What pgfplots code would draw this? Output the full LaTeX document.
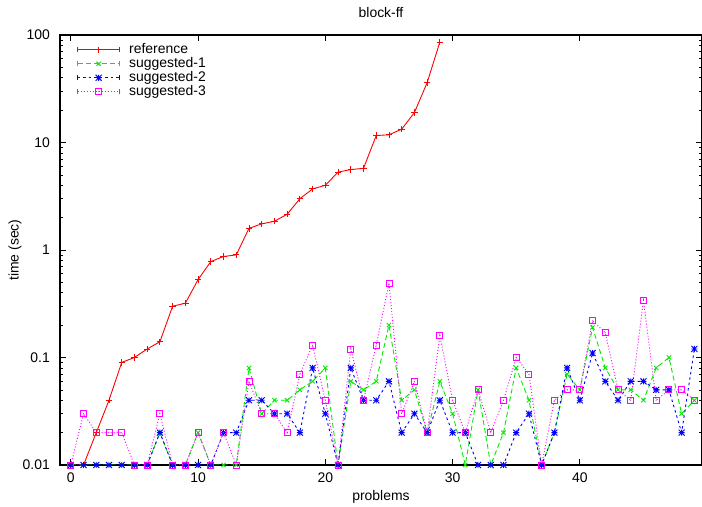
\documentclass[border=0pt]{standalone}
\usepackage{fontspec}
\setmainfont{Liberation Sans}
\usepackage{pgfplots}
\pgfplotsset{compat=1.18}
\usepackage{pgfplotstable}

\definecolor{gpred}{RGB}{255,0,0}
\definecolor{gpgreen}{RGB}{0,235,0}
\definecolor{gpblue}{RGB}{0,0,255}
\definecolor{gpmag}{RGB}{255,0,255}

\pgfdeclareplotmark{gstar}{%
  \pgfpathmoveto{\pgfqpoint{-\pgfplotmarksize}{0pt}}\pgfpathlineto{\pgfqpoint{\pgfplotmarksize}{0pt}}%
  \pgfpathmoveto{\pgfqpoint{0pt}{-\pgfplotmarksize}}\pgfpathlineto{\pgfqpoint{0pt}{\pgfplotmarksize}}%
  \pgfpathmoveto{\pgfqpoint{-\pgfplotmarksize}{-\pgfplotmarksize}}\pgfpathlineto{\pgfqpoint{\pgfplotmarksize}{\pgfplotmarksize}}%
  \pgfpathmoveto{\pgfqpoint{-\pgfplotmarksize}{\pgfplotmarksize}}\pgfpathlineto{\pgfqpoint{\pgfplotmarksize}{-\pgfplotmarksize}}%
  \pgfusepathqstroke}
\pgfdeclareplotmark{gsq}{%
  \pgfpathrectangle{\pgfqpoint{-\pgfplotmarksize}{-\pgfplotmarksize}}{\pgfqpoint{2\pgfplotmarksize}{2\pgfplotmarksize}}%
  \pgfusepathqstroke
  \pgfpathcircle{\pgfpointorigin}{0.5pt}\pgfusepathqfill}

\pgfplotstableread{
x ref
0 0.01
1 0.01
2 0.02
3 0.04
4 0.09
5 0.10
6 0.12
7 0.14
8 0.30
9 0.32
10 0.53
11 0.78
12 0.87
13 0.90
14 1.59
15 1.75
16 1.85
17 2.15
18 3.0
19 3.7
20 4.0
21 5.3
22 5.6
23 5.75
24 11.6
25 11.8
26 13.3
27 19
28 36
29 86
}\reftable

\pgfplotstableread{
x s1 s2 s3
0 0.01 0.01 0.01
1 0.01 0.01 0.03
2 0.01 0.01 0.02
3 0.01 0.01 0.02
4 0.01 0.01 0.02
5 0.01 0.01 0.01
6 0.01 0.01 0.01
7 0.02 0.02 0.03
8 0.01 0.01 0.01
9 0.01 0.01 0.01
10 0.02 0.01 0.02
11 0.01 0.01 0.01
12 0.01 0.02 0.02
13 0.01 0.02 0.01
14 0.08 0.04 0.06
15 0.03 0.04 0.03
16 0.04 0.03 0.03
17 0.04 0.03 0.02
18 0.05 0.02 0.07
19 0.06 0.08 0.13
20 0.08 0.03 0.04
21 0.01 0.01 0.01
22 0.06 0.08 0.12
23 0.05 0.04 0.04
24 0.06 0.04 0.13
25 0.20 0.06 0.49
26 0.04 0.02 0.03
27 0.05 0.03 0.06
28 0.02 0.02 0.02
29 0.06 0.04 0.16
30 0.03 0.02 0.04
31 0.01 0.02 0.02
32 0.05 0.01 0.05
33 0.01 0.01 0.02
34 0.02 0.01 0.04
35 0.08 0.02 0.10
36 0.04 0.03 0.07
37 0.01 0.01 0.01
38 0.02 0.02 0.04
39 0.07 0.08 0.05
40 0.05 0.04 0.05
41 0.19 0.11 0.22
42 0.08 0.06 0.17
43 0.05 0.04 0.05
44 0.05 0.06 0.04
45 0.04 0.06 0.34
46 0.08 0.05 0.04
47 0.10 0.05 0.05
48 0.03 0.02 0.05
49 0.04 0.12 0.04
}\sugtable

\begin{document}
\begin{tikzpicture}
\begin{axis}[
  at={(0,0)}, anchor=south west,
  scale only axis, width=642bp, height=430bp,
  ymode=log,
  xmin=-0.85, xmax=49.6, ymin=0.01, ymax=100,
  xtick={0,10,20,30,40},
  ytick={0.01,0.1,1,10,100},
  yticklabels={0.01,0.1,1,10,100},
  minor ytick={0.02,0.03,0.04,0.05,0.06,0.07,0.08,0.09,0.2,0.3,0.4,0.5,0.6,0.7,0.8,0.9,2,3,4,5,6,7,8,9,20,30,40,50,60,70,80,90},
  tick align=inside, tick pos=both,
  major tick length=6bp, minor tick length=3bp,
  every tick/.style={black, line width=0.7bp},
  axis line style={black, line width=1.1bp},
  font=\fontsize{14}{16}\selectfont,
  /pgf/number format/assume math mode=true,
  xticklabel style={anchor=north, inner sep=0pt, yshift=-8bp},
  yticklabel style={anchor=east, inner sep=0pt, xshift=-10bp},
  title={block-ff},
  title style={at={(axis description cs:0.5,1.0395)}, anchor=center, inner sep=0pt},
  xlabel={problems},
  xlabel style={at={(axis description cs:0.5,-0.0744)}, anchor=center, inner sep=0pt},
  ylabel={time (sec)},
  ylabel style={at={(axis description cs:-0.0701,0.5)}, anchor=center, inner sep=0pt},
  legend cell align=left,
  legend style={draw=none, fill=none, inner sep=0pt, row sep=2bp, column sep=9bp,
    nodes={inner sep=0pt, text height=9.5bp, text depth=2.5bp},
    at={(axis description cs:0.0265,0.98)}, anchor=north west,
    font=\fontsize{14}{16}\selectfont},
  legend image code/.code={%
    \draw[#1, solid] (0bp,-2.5bp) -- (0bp,2.5bp) (42bp,-2.5bp) -- (42bp,2.5bp);
    \draw[mark repeat=2, mark phase=2, #1] plot coordinates {(0bp,0bp) (21bp,0bp) (42bp,0bp)};
  },
]
\addplot[gpred, line width=0.9bp, mark=+, mark size=3.2bp, mark options={solid, line width=0.9bp}]
  table[x=x, y=ref] {\reftable};
\addlegendentry{reference}
\addplot[gpgreen, line width=0.9bp, dash pattern=on 5bp off 3bp, mark=x, mark size=3bp, mark options={solid, line width=0.9bp}]
  table[x=x, y=s1] {\sugtable};
\addlegendentry{suggested-1}
\addplot[gpblue, line width=0.9bp, dash pattern=on 2.5bp off 3bp, mark=gstar, mark size=3bp, mark options={solid, line width=0.9bp}]
  table[x=x, y=s2] {\sugtable};
\addlegendentry{suggested-2}
\addplot[gpmag, line width=0.9bp, dash pattern=on 1bp off 2bp, mark=gsq, mark size=3bp, mark options={solid, line width=0.9bp}]
  table[x=x, y=s3] {\sugtable};
\addlegendentry{suggested-3}
\end{axis}
\pgfresetboundingbox
\path[use as bounding box] ([shift={(-60bp,-42bp)}]current axis.south west) rectangle ([shift={(0bp,35bp)}]current axis.north east);
\end{tikzpicture}
\end{document}
